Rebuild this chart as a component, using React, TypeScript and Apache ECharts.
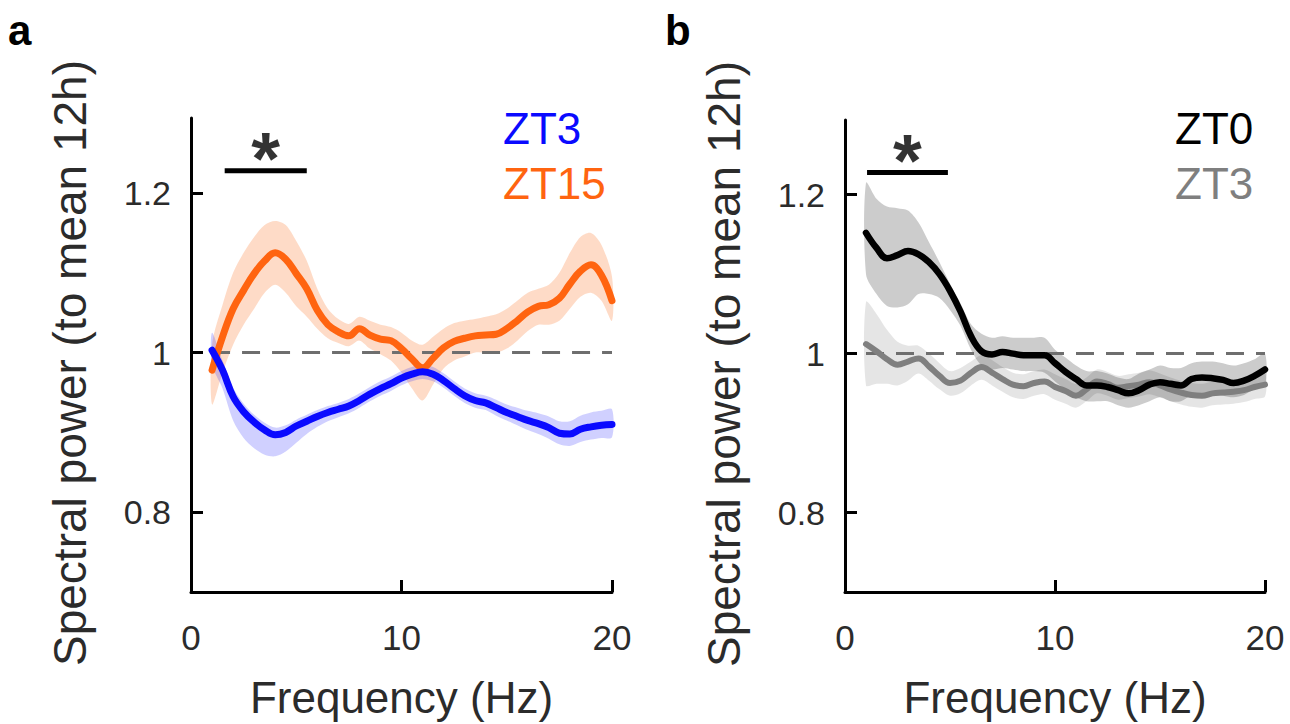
import React, { useEffect, useRef } from "react";
import * as echarts from "echarts";

// ---------- data ----------
const freq = [1, 1.5, 2, 2.5, 3, 3.5, 4, 4.5, 5, 5.5, 6, 6.5, 7, 7.5, 8, 8.5, 9, 9.5, 10, 10.5, 11, 11.5, 12, 12.5, 13, 13.5, 14, 14.5, 15, 15.5, 16, 16.5, 17, 17.5, 18, 18.5, 19, 19.5, 20];

// panel a
const zt3A = [1.003, 0.978, 0.945, 0.926, 0.913, 0.903, 0.897, 0.9, 0.908, 0.914, 0.92, 0.925, 0.929, 0.933, 0.94, 0.948, 0.955, 0.961, 0.968, 0.973, 0.976, 0.973, 0.965, 0.955, 0.946, 0.94, 0.937, 0.931, 0.925, 0.92, 0.915, 0.911, 0.906, 0.899, 0.898, 0.904, 0.907, 0.909, 0.91];
const zt3AHi = [1.025, 0.99, 0.956, 0.936, 0.922, 0.912, 0.906, 0.909, 0.916, 0.922, 0.928, 0.933, 0.937, 0.942, 0.949, 0.957, 0.964, 0.97, 0.977, 0.982, 0.985, 0.982, 0.974, 0.964, 0.955, 0.949, 0.946, 0.941, 0.935, 0.931, 0.927, 0.924, 0.92, 0.914, 0.914, 0.921, 0.925, 0.927, 0.929];
const zt3ALo = [0.985, 0.955, 0.915, 0.893, 0.88, 0.872, 0.87, 0.876, 0.887, 0.898, 0.907, 0.914, 0.919, 0.924, 0.931, 0.939, 0.946, 0.952, 0.959, 0.964, 0.967, 0.964, 0.956, 0.946, 0.937, 0.931, 0.928, 0.921, 0.915, 0.909, 0.903, 0.898, 0.892, 0.885, 0.883, 0.888, 0.891, 0.893, 0.894];
const zt15A = [0.978, 1.02, 1.055, 1.078, 1.099, 1.115, 1.125, 1.117, 1.099, 1.08, 1.053, 1.035, 1.026, 1.021, 1.03, 1.022, 1.017, 1.015, 1.005, 0.992, 0.981, 0.993, 1.006, 1.014, 1.018, 1.021, 1.022, 1.023, 1.03, 1.04, 1.051, 1.058, 1.06, 1.068, 1.086, 1.102, 1.11, 1.097, 1.065];
const zt15AHi = [1.01, 1.06, 1.1, 1.125, 1.145, 1.16, 1.165, 1.16, 1.14, 1.115, 1.08, 1.055, 1.042, 1.036, 1.045, 1.04, 1.035, 1.032, 1.025, 1.015, 1.01, 1.02, 1.03, 1.037, 1.04, 1.042, 1.045, 1.048, 1.055, 1.065, 1.075, 1.08, 1.085, 1.1, 1.125, 1.145, 1.15, 1.135, 1.095];
const zt15ALo = [0.935, 0.975, 1.01, 1.035, 1.055, 1.075, 1.085, 1.075, 1.058, 1.045, 1.03, 1.018, 1.012, 1.008, 1.015, 1.005, 0.998, 0.99, 0.975, 0.955, 0.94, 0.96, 0.98, 0.99, 0.995, 1.0, 1.0, 1.0, 1.005, 1.015, 1.027, 1.035, 1.035, 1.04, 1.055, 1.07, 1.075, 1.065, 1.04];

// panel b
const zt0B = [1.152, 1.133, 1.12, 1.124, 1.129, 1.125, 1.115, 1.1, 1.079, 1.053, 1.022, 1.003, 0.999, 1.002, 1.0, 0.998, 0.998, 0.998, 0.988, 0.977, 0.968, 0.96, 0.96, 0.958, 0.954, 0.95, 0.954, 0.961, 0.964, 0.962, 0.96, 0.968, 0.97, 0.969, 0.967, 0.963, 0.966, 0.972, 0.98];
const zt0BHi = [1.215, 1.195, 1.185, 1.183, 1.18, 1.165, 1.14, 1.115, 1.088, 1.063, 1.037, 1.025, 1.02, 1.022, 1.02, 1.02, 1.02, 1.02, 1.005, 0.995, 0.985, 0.978, 0.978, 0.975, 0.97, 0.968, 0.975, 0.98, 0.985, 0.982, 0.982, 0.988, 0.99, 0.99, 0.988, 0.985, 0.988, 0.993, 1.0];
const zt0BLo = [1.1, 1.075, 1.06, 1.058, 1.062, 1.075, 1.075, 1.07, 1.055, 1.035, 1.005, 0.985, 0.98, 0.982, 0.98, 0.978, 0.978, 0.976, 0.965, 0.955, 0.945, 0.94, 0.94, 0.94, 0.935, 0.932, 0.935, 0.94, 0.945, 0.94, 0.94, 0.948, 0.95, 0.95, 0.947, 0.945, 0.948, 0.955, 0.96];
const zt3B = [1.012, 1.003, 0.993, 0.986, 0.99, 0.994, 0.984, 0.972, 0.963, 0.966, 0.976, 0.983, 0.976, 0.968, 0.961, 0.959, 0.963, 0.965, 0.958, 0.953, 0.947, 0.955, 0.965, 0.962, 0.957, 0.959, 0.961, 0.964, 0.96, 0.955, 0.951, 0.948, 0.947, 0.95, 0.951, 0.952, 0.954, 0.958, 0.961];
const zt3BHi = [1.065, 1.05, 1.03, 1.015, 1.01, 1.01, 1.0, 0.988, 0.978, 0.982, 0.99, 0.998, 0.992, 0.983, 0.976, 0.974, 0.978, 0.98, 0.974, 0.968, 0.962, 0.97, 0.98, 0.977, 0.972, 0.974, 0.976, 0.979, 0.975, 0.97, 0.966, 0.963, 0.962, 0.965, 0.966, 0.967, 0.969, 0.973, 0.976];
const zt3BLo = [0.96, 0.962, 0.962, 0.96, 0.966, 0.975, 0.966, 0.955, 0.947, 0.95, 0.96, 0.967, 0.96, 0.952, 0.945, 0.943, 0.947, 0.949, 0.942, 0.937, 0.932, 0.94, 0.95, 0.947, 0.942, 0.944, 0.946, 0.949, 0.945, 0.94, 0.936, 0.933, 0.932, 0.935, 0.936, 0.937, 0.939, 0.943, 0.946];

// axes, reference, significance
const xTicks = [0, 10, 20];
const yTicks = [0.8, 1, 1.2];
const yTickLabels = ["0.8", "1", "1.2"];
const refRange = [1, 20];
const refLevel = 1;
const sigA = [1.6, 5.5];
const sigB = [1.05, 4.9];
const sigLevel = 1.228;

const legendA = ["ZT3", "ZT15"];
const legendB = ["ZT0", "ZT3"];

// ---------- styling ----------
const FONT = '"Liberation Sans", Arial, Helvetica, sans-serif';
const TXT = "#2b2b2b";
const ORANGE = "#ff6410";
const BLUE = "#0a0aff";
const GRAY = "#7f7f7f";
const BLACK = "#000000";

function xAxis(gridIndex: number) {
  return {
    type: "value",
    gridIndex,
    min: xTicks[0],
    max: xTicks[xTicks.length - 1],
    interval: xTicks[1] - xTicks[0],
    name: "Frequency (Hz)",
    nameLocation: "middle",
    nameGap: 83,
    nameTextStyle: { fontSize: 44, color: TXT, fontFamily: FONT },
    axisLine: { show: true, lineStyle: { color: "#000", width: 3 } },
    axisTick: { show: true, inside: true, length: 12, lineStyle: { color: "#000", width: 3 } },
    axisLabel: { show: true, fontSize: 35, color: TXT, fontFamily: FONT, margin: 28 },
    splitLine: { show: false },
  };
}

function yAxis(gridIndex: number) {
  return {
    type: "value",
    gridIndex,
    min: 0.7,
    max: 1.294,
    name: "Spectral power (to mean 12h)",
    nameLocation: "middle",
    nameRotate: 90,
    nameGap: 98,
    nameTextStyle: { fontSize: 46, color: TXT, fontFamily: FONT, padding: [0, 16, 0, 0] },
    axisLine: { show: true, lineStyle: { color: "#000", width: 3 } },
    axisTick: { show: true, inside: true, length: 12, customValues: yTicks, lineStyle: { color: "#000", width: 3 } },
    axisLabel: {
      show: true,
      customValues: yTicks,
      fontSize: 34,
      color: TXT,
      fontFamily: FONT,
      margin: 20,
      formatter: (v: number) => {
        const i = yTicks.findIndex((t) => Math.abs(t - v) < 1e-6);
        return i >= 0 ? yTickLabels[i] : "";
      },
    },
    splitLine: { show: false },
  };
}

function band(idx: number, lo: number[], hi: number[], color: string) {
  return {
    type: "custom",
    xAxisIndex: idx,
    yAxisIndex: idx,
    silent: true,
    z: 1,
    encode: { x: 0, y: [1, 2] },
    data: freq.map((f, i) => [f, lo[i], hi[i]]),
    renderItem: (params: any, api: any) => {
      if (params.dataIndex !== 0) return null;
      const pts: number[][] = [];
      for (let i = 0; i < freq.length; i++) pts.push(api.coord([freq[i], hi[i]]));
      for (let i = freq.length - 1; i >= 0; i--) pts.push(api.coord([freq[i], lo[i]]));
      return { type: "polygon", shape: { points: pts, smooth: 0.3 }, style: { fill: color } };
    },
  };
}

function meanLine(idx: number, vals: number[], color: string, width: number, z: number) {
  return {
    type: "line",
    xAxisIndex: idx,
    yAxisIndex: idx,
    data: freq.map((f, i) => [f, vals[i]]),
    showSymbol: false,
    smooth: 0.4,
    z,
    lineStyle: { color, width, cap: "round", join: "round" },
    silent: true,
  };
}

function refLine(idx: number) {
  return {
    type: "line",
    xAxisIndex: idx,
    yAxisIndex: idx,
    data: [[refRange[0], refLevel], [refRange[1], refLevel]],
    showSymbol: false,
    z: 2,
    lineStyle: { color: "#6e6e6e", width: 3, type: [18, 12] },
    silent: true,
  };
}

function sigBar(idx: number, range: number[]) {
  return [
    {
      type: "line",
      xAxisIndex: idx,
      yAxisIndex: idx,
      data: [[range[0], sigLevel], [range[1], sigLevel]],
      showSymbol: false,
      z: 5,
      lineStyle: { color: "#000", width: 5 },
      silent: true,
    },
    {
      type: "scatter",
      xAxisIndex: idx,
      yAxisIndex: idx,
      data: [[(range[0] + range[1]) / 2, sigLevel]],
      symbolSize: 1,
      itemStyle: { color: "rgba(0,0,0,0)" },
      z: 5,
      silent: true,
      label: {
        show: true,
        formatter: "*",
        position: "inside",
        offset: [0, -12],
        fontSize: 74,
        fontWeight: "bold",
        color: "#000",
        fontFamily: FONT,
      },
    },
  ];
}

function legendText(x: number, y: number, text: string, color: string) {
  return {
    type: "text",
    x,
    y,
    style: { text, fill: color, font: `44px ${FONT}`, textAlign: "left", textVerticalAlign: "middle" },
  };
}

export default function App() {
  const ref = useRef<HTMLDivElement>(null);
  useEffect(() => {
    if (!ref.current) return;
    const chart = echarts.init(ref.current, null, { renderer: "svg" });
    const option: any = {
      animation: false,
      backgroundColor: "#ffffff",
      grid: [
        { left: 191, top: 118, width: 421, height: 480, containLabel: false },
        { left: 845, top: 120, width: 420, height: 480, containLabel: false },
      ],
      xAxis: [xAxis(0), xAxis(1)],
      yAxis: [yAxis(0), yAxis(1)],
      graphic: [
        { type: "text", x: 8, y: 30, style: { text: "a", fill: "#000", font: `bold 42px ${FONT}`, textVerticalAlign: "middle" } },
        { type: "text", x: 665, y: 30, style: { text: "b", fill: "#000", font: `bold 42px ${FONT}`, textVerticalAlign: "middle" } },
        legendText(503, 128, legendA[0], BLUE),
        legendText(503, 183, legendA[1], ORANGE),
        legendText(1175, 128, legendB[0], BLACK),
        legendText(1175, 183, legendB[1], GRAY),
      ],
      series: [
        band(0, zt15ALo, zt15AHi, "rgba(250,110,30,0.25)"),
        band(0, zt3ALo, zt3AHi, "rgba(40,40,255,0.22)"),
        refLine(0),
        meanLine(0, zt15A, ORANGE, 7, 3),
        meanLine(0, zt3A, BLUE, 7, 4),
        ...sigBar(0, sigA),
        band(1, zt3BLo, zt3BHi, "rgba(0,0,0,0.1)"),
        band(1, zt0BLo, zt0BHi, "rgba(0,0,0,0.2)"),
        refLine(1),
        meanLine(1, zt3B, GRAY, 6, 3),
        meanLine(1, zt0B, BLACK, 6.5, 4),
        ...sigBar(1, sigB),
      ],
    };
    chart.setOption(option);
    return () => chart.dispose();
  }, []);
  return <div ref={ref} style={{ position: "fixed", left: 0, top: 0, width: 1290, height: 724 }} />;
}
